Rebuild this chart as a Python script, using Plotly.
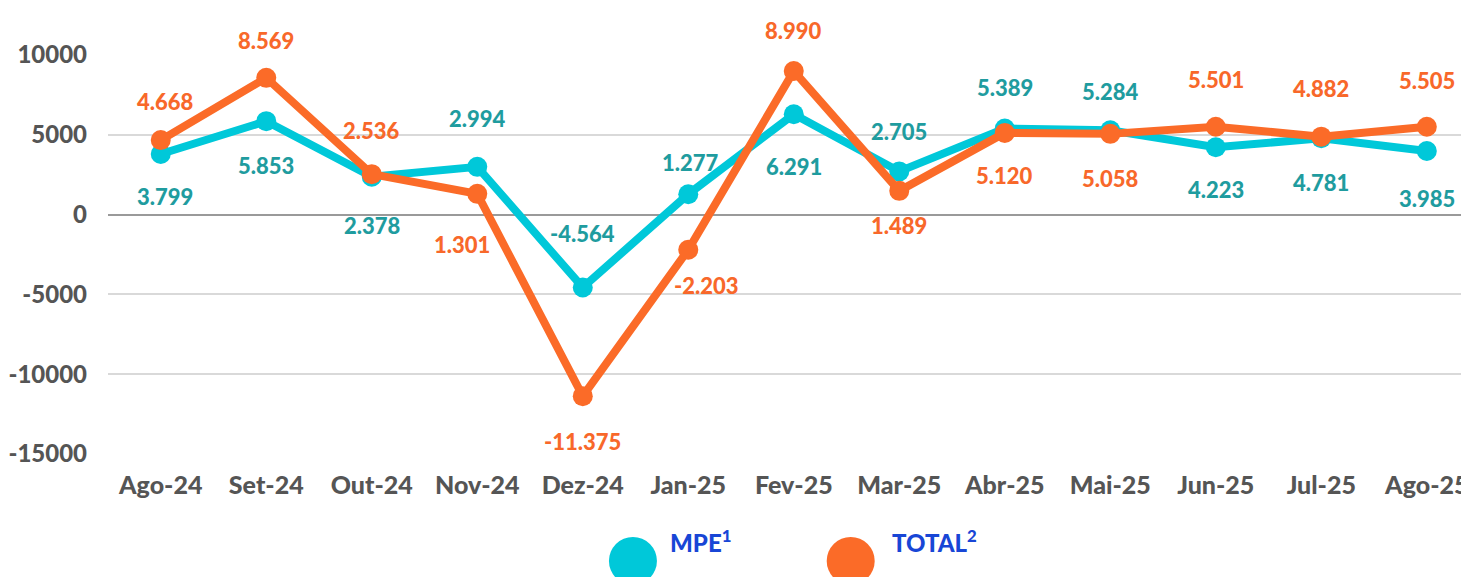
import plotly.graph_objects as go

months = ["Ago-24", "Set-24", "Out-24", "Nov-24", "Dez-24", "Jan-25", "Fev-25",
          "Mar-25", "Abr-25", "Mai-25", "Jun-25", "Jul-25", "Ago-25"]
mpe = [3799, 5853, 2378, 2994, -4564, 1277, 6291, 2705, 5389, 5284, 4223, 4781, 3985]
total = [4668, 8569, 2536, 1301, -11375, -2203, 8990, 1489, 5120, 5058, 5501, 4882, 5505]
y_ticks = [10000, 5000, 0, -5000, -10000, -15000]

# label pixel offsets (positive = up)
mpe_shift = [-43, -44, -49, 48, 54, 32, -52, 40, 41, 39, -42, -44, -47]
mpe_xshift = [4, 0, 0, 0, 0, 2, 0, 0, 0, 0, 0, 0, 0]
tot_shift = [39, 37, 44, -51, -45, -36, 41, -35, -43, -45, 47, 48, 46]
tot_xshift = [4, 0, 0, -15, 0, 18, 0, 0, 0, 0, 0, 0, 0]

C_MPE = "#00c8d9"
C_TOT = "#fb6b28"
C_MPE_TXT = "#1f9c9f"
C_TOT_TXT = "#f8682a"
FONT = "Lato"
W = 900

def fmt(v):
    return f"{v:,}".replace(",", ".")

fig = go.Figure()
fig.add_trace(go.Scatter(x=months, y=mpe, mode="lines+markers", name="MPE",
                         line=dict(color=C_MPE, width=8), marker=dict(size=20, color=C_MPE),
                         cliponaxis=False))
fig.add_trace(go.Scatter(x=months, y=total, mode="lines+markers", name="TOTAL",
                         line=dict(color=C_TOT, width=8), marker=dict(size=20, color=C_TOT),
                         cliponaxis=False))

ann = []
for i, m in enumerate(months):
    ann.append(dict(x=m, y=mpe[i], xref="x", yref="y", text=fmt(mpe[i]), showarrow=False,
                    yshift=mpe_shift[i], xshift=mpe_xshift[i],
                    font=dict(family=FONT, size=22, color=C_MPE_TXT, weight=W)))
    ann.append(dict(x=m, y=total[i], xref="x", yref="y", text=fmt(total[i]), showarrow=False,
                    yshift=tot_shift[i], xshift=tot_xshift[i],
                    font=dict(family=FONT, size=22, color=C_TOT_TXT, weight=W)))

LX1, LX2, LY = 0.3857, 0.5457, -0.268
ann.append(dict(x=LX1, y=LY, xref="paper", yref="paper", text="MPE<sup>1</sup>",
                showarrow=False, xanchor="left", xshift=35, yshift=2,
                font=dict(family=FONT, size=24, color="#1846d6", weight=W)))
ann.append(dict(x=LX2, y=LY, xref="paper", yref="paper", text="TOTAL<sup>2</sup>",
                showarrow=False, xanchor="left", xshift=39, yshift=2,
                font=dict(family=FONT, size=24, color="#1846d6", weight=W)))
shapes = [
    dict(type="circle", xref="paper", yref="paper", xsizemode="pixel", ysizemode="pixel",
         xanchor=LX1, yanchor=LY, x0=-24, x1=24, y0=-24, y1=24,
         fillcolor=C_MPE, line=dict(width=0)),
    dict(type="circle", xref="paper", yref="paper", xsizemode="pixel", ysizemode="pixel",
         xanchor=LX2, yanchor=LY, x0=-24, x1=24, y0=-24, y1=24,
         fillcolor=C_TOT, line=dict(width=0)),
]

fig.update_layout(
    width=1461, height=569,
    margin=dict(l=100, r=0, t=47, b=123),
    plot_bgcolor="white", paper_bgcolor="white",
    showlegend=False,
    annotations=ann, shapes=shapes,
    font=dict(family=FONT),
)
fig.update_xaxes(range=[-0.5, 12.4], showgrid=False, zeroline=False, showline=False,
                 ticks="", ticklabelstandoff=14,
                 tickfont=dict(family=FONT, size=25, color="#555555", weight=W))
fig.update_yaxes(range=[-15000, 10000], tickvals=y_ticks, ticktext=[str(v) for v in y_ticks],
                 showgrid=True, gridcolor="#d9d9d9", gridwidth=2,
                 zeroline=True, zerolinecolor="#9a9a9a", zerolinewidth=2,
                 ticks="", ticklabelstandoff=20,
                 tickfont=dict(family=FONT, size=24, color="#555555", weight=W))

fig.write_html("out.html")
